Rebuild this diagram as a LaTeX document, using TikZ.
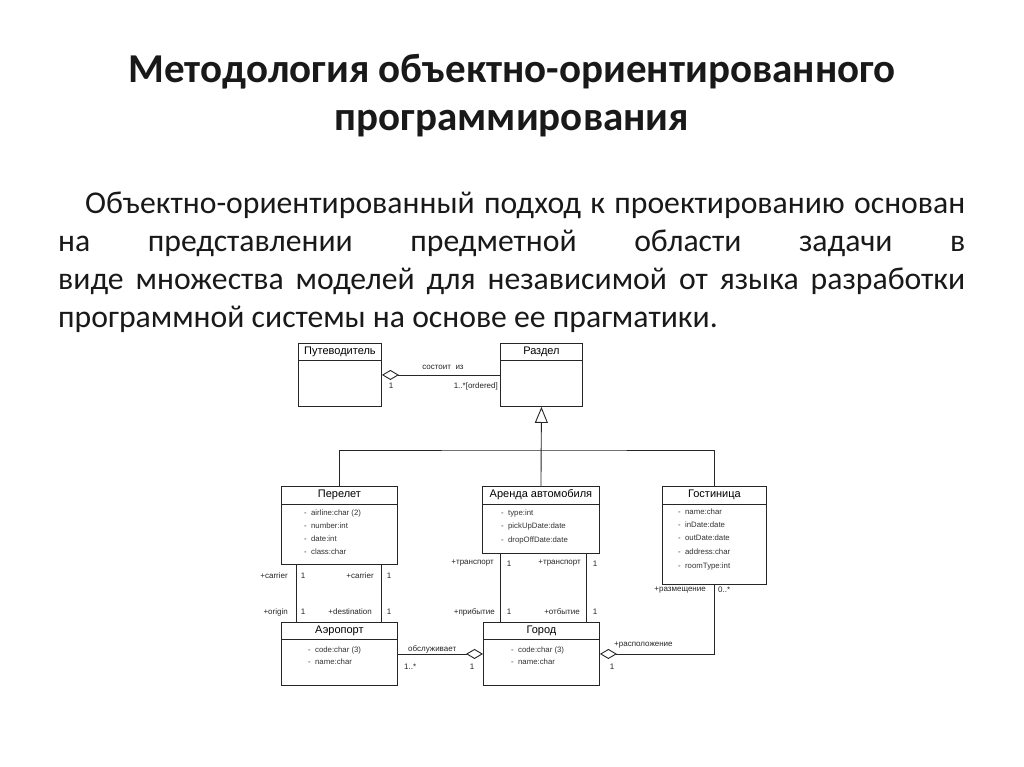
\documentclass[tikz,border=0pt]{standalone}
\usepackage{fontspec}
\setmainfont{Carlito}
\newfontfamily\umlfont{Liberation Sans}
\usetikzlibrary{arrows.meta,calc}
\begin{document}
\begin{tikzpicture}[x=1pt,y=-1pt,
  ln/.style={line width=0.9pt,draw=black!85},
  cls/.style={ln,anchor=north west,inner sep=0pt,fill=white},
  cname/.style={inner sep=0pt,font=\umlfont\fontsize{11}{13}\selectfont},
  attr/.style={inner sep=0pt,anchor=west,font=\umlfont\fontsize{7.8}{9}\selectfont,text=black!80},
  lbl/.style={inner sep=0pt,font=\umlfont\fontsize{8}{9}\selectfont,text=black!85},
  agg/.style={ln,{Diamond[open,length=17pt,width=10pt]}-},
  gen/.style={ln,-{Triangle[open,length=16pt,width=13pt]}}
]
\useasboundingbox[fill=white] (0,0) rectangle (1024,767);

% title
\node[font=\bfseries\fontsize{41}{48}\selectfont,align=center,inner sep=0pt,text=black!90] (title) at (512,96)
  {Методология объектно-ориентированного\\программирования};

% paragraph
\node[anchor=north west,inner sep=0pt,text width=907pt,align=justify,
  font=\fontsize{31.7}{37.8}\selectfont,text=black!90] (para) at (58,192)
  {\hspace*{27pt}Объектно-ориентированный подход к проектированию основан\linebreak
   на представлении предметной области задачи в\linebreak
   виде множества моделей для независимой от языка разработки\linebreak
   программной системы на основе ее прагматики.};

% classes
\node[cls,minimum width=83pt,minimum height=63pt] (guide) at (298,343) {};
\node[cls,minimum width=82pt,minimum height=63pt] (razdel) at (500,343) {};
\node[cls,minimum width=116pt,minimum height=78pt] (perelet) at (281,486) {};
\node[cls,minimum width=117pt,minimum height=67pt] (arenda) at (482,486) {};
\node[cls,minimum width=104pt,minimum height=98pt] (hotel) at (662,486) {};
\node[cls,minimum width=116pt,minimum height=63pt] (airport) at (281,622) {};
\node[cls,minimum width=116pt,minimum height=63pt] (city) at (483,622) {};

\foreach \n/\h in {guide/17,razdel/17,perelet/18,arenda/18,hotel/18,airport/17,city/17}
  \draw[ln] ($(\n.north west)+(0,\h)$) -- ($(\n.north east)+(0,\h)$);

\node[cname] (guideT) at ($(guide.north)+(0,9)$) {Путеводитель};
\node[cname] (razdelT) at ($(razdel.north)+(0,9)$) {Раздел};
\node[cname] (pereletT) at ($(perelet.north)+(0,9)$) {Перелет};
\node[cname] (arendaT) at ($(arenda.north)+(0,9)$) {Аренда автомобиля};
\node[cname] (hotelT) at ($(hotel.north)+(0,9)$) {Гостиница};
\node[cname] (airportT) at ($(airport.north)+(0,9)$) {Аэропорт};
\node[cname] (cityT) at ($(city.north)+(0,9)$) {Город};

% attributes
\node[attr] (p1) at (304,513) {-\ \ airline:char (2)};
\node[attr] (p2) at (304,526) {-\ \ number:int};
\node[attr] (p3) at (304,539) {-\ \ date:int};
\node[attr] (p4) at (304,552) {-\ \ class:char};
\node[attr] (a1) at (501,513) {-\ \ type:int};
\node[attr] (a2) at (501,526) {-\ \ pickUpDate:date};
\node[attr] (a3) at (501,540) {-\ \ dropOffDate:date};
\node[attr] (h1) at (678,512) {-\ \ name:char};
\node[attr] (h2) at (678,525) {-\ \ inDate:date};
\node[attr] (h3) at (678,538) {-\ \ outDate:date};
\node[attr] (h4) at (678,552) {-\ \ address:char};
\node[attr] (h5) at (678,566) {-\ \ roomType:int};
\node[attr] (ap1) at (308,650) {-\ \ code:char (3)};
\node[attr] (ap2) at (308,662) {-\ \ name:char};
\node[attr] (c1) at (511,650) {-\ \ code:char (3)};
\node[attr] (c2) at (511,662) {-\ \ name:char};

% aggregation guide - razdel
\draw[agg] (guide.east) -- (razdel.west);
\node[lbl] (l1) at (443,367) {состоит\ \ из};
\node[lbl] (l2) at (391,386) {1};
\node[lbl,anchor=east] (l3) at (498,386) {1..*[ordered]};

% generalization
\coordinate (genc) at (541,450);
\draw[gen] (arenda.north) -- (razdel.south);
\draw[ln] (perelet.north) |- (genc) -| (hotel.north);

% perelet - airport
\draw[ln] ($(perelet.south west)+(15,0)$) -- ($(airport.north west)+(15,0)$);
\draw[ln] ($(perelet.south east)+(-16,0)$) -- ($(airport.north east)+(-16,0)$);
\node[lbl,anchor=east] at (288,576) {+carrier};
\node[lbl] at (303,576) {1};
\node[lbl,anchor=east] at (374,576) {+carrier};
\node[lbl] at (389,576) {1};
\node[lbl,anchor=east] at (288,612) {+origin};
\node[lbl] at (303,612) {1};
\node[lbl,anchor=east] at (372,612) {+destination};
\node[lbl] at (389,612) {1};

% arenda - city
\draw[ln] ($(arenda.south west)+(18,0)$) -- (city.north west -| {$(arenda.south west)+(18,0)$});
\draw[ln] ($(arenda.south east)+(-13,0)$) -- (city.north east -| {$(arenda.south east)+(-13,0)$});
\node[lbl,anchor=east] at (494,563) {+транспорт};
\node[lbl] at (509,564) {1};
\node[lbl,anchor=east] at (581,563) {+транспорт};
\node[lbl] at (595,564) {1};
\node[lbl,anchor=east] at (495,612) {+прибытие};
\node[lbl] at (509,612) {1};
\node[lbl,anchor=east] at (580,612) {+отбытие};
\node[lbl] at (595,612) {1};

% airport - city
\draw[agg] (city.west) -- (airport.east);
\node[lbl,anchor=west] at (408,649) {обслуживает};
\node[lbl,anchor=west] at (404,667) {1..*};
\node[lbl] at (472,667) {1};

% hotel - city
\draw[agg] (city.east) -| (hotel.south);
\node[lbl,anchor=east] at (706,590) {+размещение};
\node[lbl,anchor=west] at (718,590) {0..*};
\node[lbl,anchor=west] at (614,645) {+расположение};
\node[lbl] at (612,667) {1};
\end{tikzpicture}
\end{document}
